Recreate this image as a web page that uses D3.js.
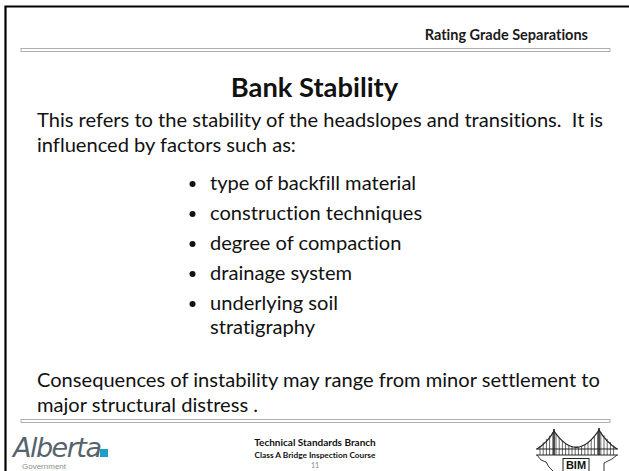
<!DOCTYPE html>
<html>
<head>
<meta charset="utf-8">
<script src="https://cdn.jsdelivr.net/npm/d3@7"></script>
<style>
body { margin: 0; background: #fff; }
text { white-space: pre; font-variant-ligatures: none; }
</style>
</head>
<body>
<script>
// slide content
var headerText = "Rating Grade Separations";
var titleText = "Bank Stability";
var introLines = ["This refers to the stability of the headslopes and transitions.  It is",
    "influenced by factors such as:"];
var bulletItems = [["type of backfill material"], ["construction techniques"],
    ["degree of compaction"], ["drainage system"], ["underlying soil", "stratigraphy"]];
var closingLines = ["Consequences of instability may range from minor settlement to",
    "major structural distress ."];
var footerLines = ["Technical Standards Branch", "Class A Bridge Inspection Course"];
var pageNumber = "11";

var width = 629,
    height = 471;

var bodyFont = "Lato, 'Open Sans', sans-serif";
var bodySize = 20.1;

var svg = d3.select("body").append("svg")
    .attr("width", width)
    .attr("height", height);

svg.append("rect").attr("width", width).attr("height", height).attr("fill", "#fff");

// frame: black rule along top and left
svg.append("path")
    .attr("d", "M5.5," + height + "V6.5H" + width)
    .attr("fill", "none")
    .attr("stroke", "#000")
    .attr("stroke-width", 2.2);

// double grey rules
function doubleRule(y) {
    svg.append("rect").attr("x", 21).attr("y", y).attr("width", 589).attr("height", 3)
        .attr("fill", "#fff").attr("stroke", "#a6a6a6").attr("stroke-width", 0.9);
}
doubleRule(48.5);
doubleRule(419.5);

svg.append("text")
    .attr("x", 588).attr("y", 40)
    .attr("text-anchor", "end")
    .attr("font-family", bodyFont)
    .attr("font-weight", "bold")
    .attr("font-size", 14.5)
    .attr("fill", "#1a1a1a")
    .text(headerText);

svg.append("text")
    .attr("x", width / 2).attr("y", 97)
    .attr("text-anchor", "middle")
    .attr("font-family", bodyFont)
    .attr("font-weight", "bold")
    .attr("font-size", 27.3)
    .attr("fill", "#111")
    .text(titleText);

var lineY = d3.scaleLinear().domain([0, 1]).range([127, 152]);

svg.append("g").selectAll("text")
    .data(introLines)
    .enter().append("text")
    .attr("x", 37)
    .attr("y", function (d, i) { return lineY(i); })
    .attr("font-family", bodyFont)
    .attr("font-size", bodySize)
    .attr("fill", "#111")
    .text(function (d) { return d; });

var bulletY = d3.scaleLinear().domain([0, bulletItems.length - 1]).range([190, 310]);

var bullets = svg.append("g").selectAll("g")
    .data(bulletItems)
    .enter().append("g")
    .attr("transform", function (d, i) { return "translate(0," + bulletY(i) + ")"; });

bullets.append("circle")
    .attr("cx", 192.5)
    .attr("cy", -6)
    .attr("r", 3)
    .attr("fill", "#111");

bullets.append("text")
    .attr("x", 210)
    .attr("font-family", bodyFont)
    .attr("font-size", bodySize)
    .attr("fill", "#111")
    .selectAll("tspan")
    .data(function (d) { return d; })
    .enter().append("tspan")
    .attr("x", 210)
    .attr("dy", function (d, i) { return i === 0 ? 0 : 24; })
    .text(function (d) { return d; });

var closeY = d3.scaleLinear().domain([0, 1]).range([387, 412]);

svg.append("g").selectAll("text")
    .data(closingLines)
    .enter().append("text")
    .attr("x", 37)
    .attr("y", function (d, i) { return closeY(i); })
    .attr("font-family", bodyFont)
    .attr("font-size", bodySize)
    .attr("fill", "#111")
    .text(function (d) { return d; });

// footer
var footY = d3.scaleLinear().domain([0, 1, 2]).range([446, 457.5, 467.5]);
var footSize = [10, 8.3, 7];

svg.append("g").selectAll("text")
    .data(footerLines.concat([pageNumber]))
    .enter().append("text")
    .attr("x", 315)
    .attr("y", function (d, i) { return footY(i); })
    .attr("text-anchor", "middle")
    .attr("font-family", bodyFont)
    .attr("font-weight", function (d, i) { return i < 2 ? "bold" : "normal"; })
    .attr("font-size", function (d, i) { return footSize[i]; })
    .attr("fill", function (d, i) { return i < 2 ? "#111" : "#888"; })
    .text(function (d) { return d; });

// Alberta logo
var logo = svg.append("g");
logo.append("text")
    .attr("x", 13).attr("y", 457)
    .attr("font-family", "'DejaVu Sans', sans-serif")
    .attr("font-weight", 200)
    .attr("font-style", "italic")
    .attr("font-size", 27)
    .attr("fill", "#56636c")
    .attr("letter-spacing", -1.5)
    .text("Alberta");
logo.append("rect")
    .attr("x", 100).attr("y", 449).attr("width", 8).attr("height", 8)
    .attr("fill", "#1e9fc4");
logo.append("text")
    .attr("x", 22).attr("y", 469)
    .attr("font-family", "'Liberation Sans', sans-serif")
    .attr("font-size", 8)
    .attr("fill", "#8a8f93")
    .text("Government");

// BIM bridge logo
var bim = svg.append("g")
    .attr("fill", "none")
    .attr("stroke", "#222")
    .attr("stroke-width", 1);

var cable = d3.path();
cable.moveTo(537, 449);
cable.quadraticCurveTo(548, 442, 554, 431);
cable.quadraticCurveTo(576.5, 464, 599, 430);
cable.quadraticCurveTo(606, 442, 617, 449);
bim.append("path").attr("d", cable.toString()).attr("stroke-width", 1.3);

// hangers under the cable
function cableY(x) {
    if (x < 554) return 449 - (x - 537) / 17 * 18;
    if (x > 599) return 430 + (x - 599) / 18 * 19;
    var t = (x - 554) / 45;
    return (1 - t) * (1 - t) * 431 + 2 * t * (1 - t) * 464 + t * t * 430;
}
var hx = d3.range(540, 616, 3.2);
bim.selectAll("line.h")
    .data(hx)
    .enter().append("line")
    .attr("class", "h")
    .attr("x1", function (d) { return d; })
    .attr("x2", function (d) { return d; })
    .attr("y1", function (d) { return cableY(d); })
    .attr("y2", 455)
    .attr("stroke-width", 0.7);

bim.append("line").attr("x1", 554).attr("x2", 554).attr("y1", 429).attr("y2", 455).attr("stroke-width", 1.6);
bim.append("line").attr("x1", 599).attr("x2", 599).attr("y1", 428).attr("y2", 455).attr("stroke-width", 1.6);
bim.append("line").attr("x1", 536).attr("x2", 618).attr("y1", 449).attr("y2", 449);
bim.append("line").attr("x1", 536).attr("x2", 618).attr("y1", 455).attr("y2", 455);

bim.append("path")
    .attr("d", "M537,455 L541,460 L546,462 L549,467 L553,471")
    .attr("stroke-width", 0.9);
bim.append("path")
    .attr("d", "M617,455 L612,459 L608,461 L604,463 L604,471")
    .attr("stroke-width", 0.9);
bim.append("rect")
    .attr("x", 563).attr("y", 458.5).attr("width", 26).attr("height", 14);
bim.append("text")
    .attr("x", 576).attr("y", 469)
    .attr("text-anchor", "middle")
    .attr("stroke", "none")
    .attr("fill", "#111")
    .attr("font-family", "'Liberation Sans', Arial, sans-serif")
    .attr("font-weight", "bold")
    .attr("font-size", 11)
    .text("BIM");
</script>
</body>
</html>
